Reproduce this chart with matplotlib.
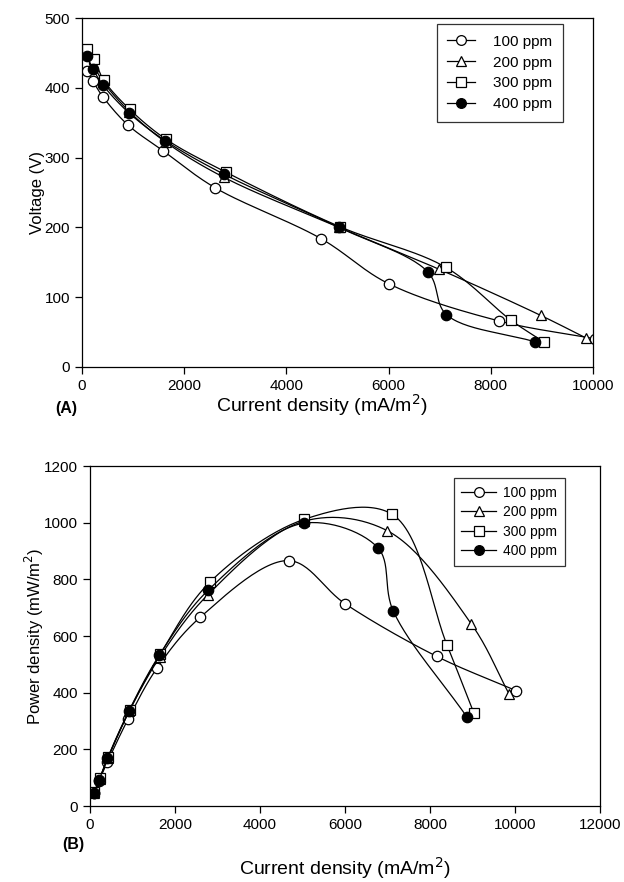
import numpy as np
import matplotlib
matplotlib.use("Agg")
import matplotlib.pyplot as plt

plt.rcParams['font.family'] = ['Liberation Sans', 'DejaVu Sans']

# current density (mA/m2) for each concentration
cur_100 = [100, 210, 410, 895, 1582, 2600, 4675, 6010, 8160, 10030]
cur_200 = [100, 225, 420, 925, 1640, 2770, 5030, 6990, 8975, 9865]
cur_300 = [105, 236, 425, 935, 1650, 2820, 5045, 7115, 8395, 9035]
cur_400 = [95, 215, 410, 920, 1634, 2783, 5030, 6770, 7133, 8865]

# voltage (V), panel A
volt_100 = [424, 410, 387, 347, 310, 257, 184, 119, 66, 40.5]
volt_200 = [448, 432, 408, 366, 322, 272, 200, 140, 74, 41.5]
volt_300 = [456, 441, 411, 369, 326, 279, 201, 143, 67, 36]
volt_400 = [446, 427, 404, 364, 324, 276, 200, 136, 75, 36]

# power density (mW/m2), panel B
pow_100 = [45, 88, 155, 306, 488, 667, 866, 713, 528, 407]
pow_200 = [46, 95, 168, 335, 525, 745, 1005, 972, 642, 394]
pow_300 = [48, 100, 172, 339, 535, 790, 1012, 1029, 570, 327]
pow_400 = [47, 92, 168, 337, 533, 762, 998, 912, 689, 315]

labels = ['100 ppm', '200 ppm', '300 ppm', '400 ppm']
markers = ['o', '^', 's', 'o']
faces = ['white', 'white', 'white', 'black']


def smooth(x, y, sx, sy, n=30):
    """centripetal catmull-rom through the points, done in pixel space"""
    pts = np.column_stack([np.asarray(x, float) * sx, np.asarray(y, float) * sy])
    p = np.vstack([2 * pts[0] - pts[1], pts, 2 * pts[-1] - pts[-2]])
    out = []
    for i in range(1, len(p) - 2):
        p0, p1, p2, p3 = p[i - 1], p[i], p[i + 1], p[i + 2]
        t0 = 0.0
        t1 = t0 + max(np.linalg.norm(p1 - p0), 1e-6) ** 0.5
        t2 = t1 + max(np.linalg.norm(p2 - p1), 1e-6) ** 0.5
        t3 = t2 + max(np.linalg.norm(p3 - p2), 1e-6) ** 0.5
        t = np.linspace(t1, t2, n)[:, None]
        a1 = (t1 - t) / (t1 - t0) * p0 + (t - t0) / (t1 - t0) * p1
        a2 = (t2 - t) / (t2 - t1) * p1 + (t - t1) / (t2 - t1) * p2
        a3 = (t3 - t) / (t3 - t2) * p2 + (t - t2) / (t3 - t2) * p3
        b1 = (t2 - t) / (t2 - t0) * a1 + (t - t0) / (t2 - t0) * a2
        b2 = (t3 - t) / (t3 - t1) * a2 + (t - t1) / (t3 - t1) * a3
        c = (t2 - t) / (t2 - t1) * b1 + (t - t1) / (t2 - t1) * b2
        out.append(c)
    out = np.vstack(out)
    return out[:, 0] / sx, out[:, 1] / sy


def draw(ax, xs, ys, xmax, ymax, wpx, hpx):
    for x, y, m, f, lab in zip(xs, ys, markers, faces, labels):
        sx_, sy_ = smooth(x, y, wpx / xmax, hpx / ymax)
        ax.plot(sx_, sy_, color='black', lw=0.9)
        ax.plot(x, y, ls='none', marker=m, ms=7.5, mfc=f, mec='black', mew=0.9)
        ax.plot([], [], color='black', lw=0.9, marker=m, ms=7, mfc=f,
                mec='black', mew=0.9, label=lab)
    ax.set_xlim(0, xmax)
    ax.set_ylim(0, ymax)
    ax.tick_params(direction='out', length=5, width=0.9, labelsize=11,
                   top=False, right=False)
    for s in ax.spines.values():
        s.set_linewidth(0.9)


fig = plt.figure(figsize=(6.24, 8.82), dpi=100)

# panel A
ax1 = fig.add_axes([82 / 624, 1 - 367 / 882, 511 / 624, 349 / 882])
draw(ax1, [cur_100, cur_200, cur_300, cur_400],
     [volt_100, volt_200, volt_300, volt_400], 10000, 500, 511, 349)
ax1.set_xticks(np.arange(0, 10001, 2000))
ax1.set_yticks(np.arange(0, 501, 100))
ax1.set_xlabel('Current density (mA/m$^2$)', fontsize=14)
ax1.xaxis.set_label_coords(0.47, -(405 - 367) / 349)
ax1.xaxis.label.set_va('center')
ax1.set_ylabel('Voltage (V)', fontsize=12, labelpad=0)
leg1 = ax1.legend(loc='upper right', bbox_to_anchor=(0.941, 0.983),
                  borderaxespad=0, fontsize=11, fancybox=False,
                  edgecolor='black', handlelength=1.8, handletextpad=1.2,
                  borderpad=0.7, labelspacing=0.45)
leg1.get_frame().set_linewidth(0.9)
fig.text(55 / 624, 1 - 408 / 882, '(A)', fontsize=11.5, fontweight='bold',
         va='center')

# panel B
ax2 = fig.add_axes([90 / 624, 1 - 806 / 882, 510 / 624, 340 / 882])
draw(ax2, [cur_100, cur_200, cur_300, cur_400],
     [pow_100, pow_200, pow_300, pow_400], 12000, 1200, 510, 340)
ax2.set_xticks(np.arange(0, 12001, 2000))
ax2.set_yticks(np.arange(0, 1201, 200))
ax2.set_xlabel('Current density (mA/m$^2$)', fontsize=14)
ax2.xaxis.set_label_coords(0.5, -(868 - 806) / 340)
ax2.xaxis.label.set_va('center')
ax2.set_ylabel('Power density (mW/m$^2$)', fontsize=12, labelpad=-1)
leg2 = ax2.legend(loc='upper right', bbox_to_anchor=(0.931, 0.965),
                  borderaxespad=0, fontsize=10, fancybox=False,
                  edgecolor='black', handlelength=2.5, handletextpad=0.5,
                  borderpad=0.55, labelspacing=0.4)
leg2.get_frame().set_linewidth(0.9)
fig.text(62 / 624, 1 - 845 / 882, '(B)', fontsize=11.5, fontweight='bold',
         va='center')

fig.savefig('out.png', dpi=100)
